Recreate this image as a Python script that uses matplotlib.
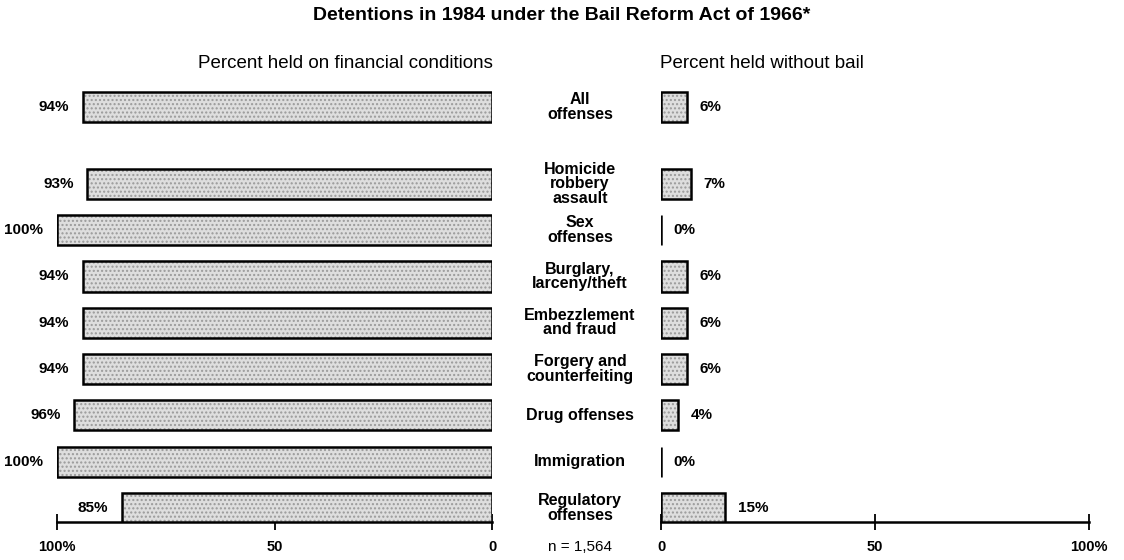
import matplotlib.pyplot as plt
import matplotlib as mpl

mpl.rcParams['font.family'] = ['Liberation Sans', 'DejaVu Sans']

categories = ["All\noffenses", "Homicide\nrobbery\nassault", "Sex\noffenses",
              "Burglary,\nlarceny/theft", "Embezzlement\nand fraud",
              "Forgery and\ncounterfeiting", "Drug offenses", "Immigration",
              "Regulatory\noffenses"]
financial = [94, 93, 100, 94, 94, 94, 96, 100, 85]
no_bail = [6, 7, 0, 6, 6, 6, 4, 0, 15]
ticks = [0, 50, 100]
left_ticklabels = ["0", "50", "100%"]
right_ticklabels = ["0", "50", "100%"]


def main() -> None:
    fig = plt.figure(figsize=(11.24, 5.6), dpi=100)
    W, H = 1124, 560
    top_px, bot_px = 80, 522
    axl = fig.add_axes([57 / W, 1 - bot_px / H, (492 - 57) / W, (bot_px - top_px) / H])
    axr = fig.add_axes([661 / W, 1 - bot_px / H, (1089 - 661) / W, (bot_px - top_px) / H])

    # row positions: extra gap after "All offenses"
    ypos = [0.0] + [1.66 + i for i in range(len(categories) - 1)]
    bar_h = 0.65
    ylim = (8.96, -0.58)

    for ax, vals in ((axl, financial), (axr, no_bail)):
        ax.barh(ypos, vals, height=bar_h, color="#dedede", edgecolor="#9a9a9a",
                hatch="....", linewidth=0, zorder=2)
        ax.barh(ypos, vals, height=bar_h, facecolor="none", edgecolor="black",
                linewidth=1.8, zorder=3)
        ax.set_xlim(0, 100)
        ax.set_ylim(*ylim)
        for s in ("left", "right", "top"):
            ax.spines[s].set_visible(False)
        ax.spines["bottom"].set_linewidth(1.8)
        ax.set_yticks([])
        ax.set_xticks(ticks)
        ax.tick_params(axis="x", direction="inout", length=12, width=1.3,
                       labelsize=10.5, pad=7)
        ax.patch.set_visible(False)

    axl.invert_xaxis()
    axl.set_xticklabels(left_ticklabels, fontweight="bold")
    axr.set_xticklabels(right_ticklabels, fontweight="bold")

    for y, v in zip(ypos, financial):
        axl.annotate(f"{v}%", (v, y), xytext=(-10, 0), textcoords="offset points",
                     ha="right", va="center", fontsize=11, fontweight="bold")
    for y, v in zip(ypos, no_bail):
        axr.annotate(f"{v}%", (v, y), xytext=(9, 0), textcoords="offset points",
                     ha="left", va="center", fontsize=11, fontweight="bold")

    for y, c in zip(ypos, categories):
        axl.annotate(c, (0, y), xytext=((580 - 492) * 0.72, 0), textcoords="offset points",
                     ha="center", va="center", fontsize=11.5, linespacing=0.95,
                     fontweight="bold", annotation_clip=False)

    fig.text(562 / W, 1 - 15 / H, "Detentions in 1984 under the Bail Reform Act of 1966*",
             ha="center", va="center", fontsize=14, fontweight="bold")
    fig.text(493 / W, 1 - 64 / H, "Percent held on financial conditions",
             ha="right", va="center", fontsize=13.5)
    fig.text(660 / W, 1 - 64 / H, "Percent held without bail",
             ha="left", va="center", fontsize=13.5)
    fig.text(580 / W, 1 - 547 / H, "n = 1,564", ha="center", va="center",
             fontsize=11)

    fig.savefig("out.png", dpi=100)
    plt.close(fig)


if __name__ == "__main__":
    main()
